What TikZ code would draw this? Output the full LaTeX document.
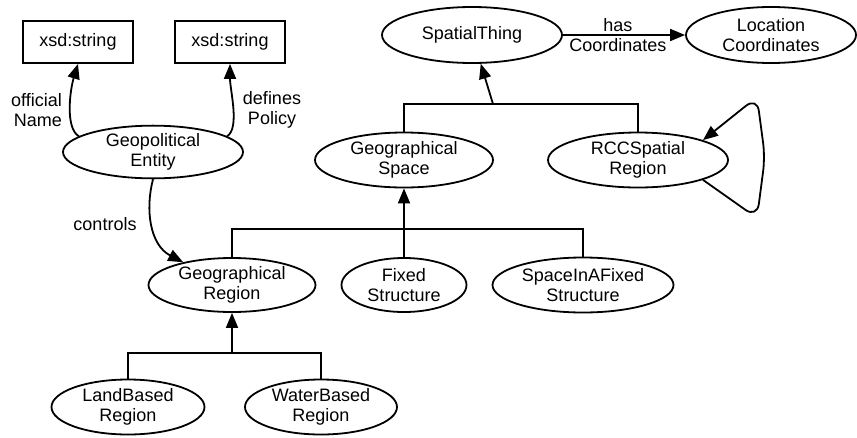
\documentclass[tikz,border=0pt]{standalone}
\usepackage{fontspec}
\setmainfont{Liberation Sans}
\usetikzlibrary{shapes.geometric,arrows.meta}
\begin{document}
\begin{tikzpicture}[x=1pt,y=-1pt,
  font=\fontsize{18}{20.5}\selectfont,
  every node/.style={inner sep=0pt, align=center},
  cls/.style={ellipse, draw, line width=1.8pt, minimum height=55pt},
  lit/.style={rectangle, draw, line width=1.8pt, minimum width=110pt, minimum height=42pt},
  link/.style={line width=1.8pt},
  arr/.style={link, -{Triangle[length=15pt,width=12pt]}}]
\useasboundingbox (0,0) rectangle (857,437);

% literal boxes
\node[lit] (str1) at (78,42) {xsd:string};
\node[lit] (str2) at (230,42) {xsd:string};

% classes
\node[cls, minimum width=180pt, minimum height=50pt] (gpe) at (153,152) {Geopolitical\\Entity};
\node[cls, minimum width=180pt, minimum height=56pt] (spatial) at (472,35) {SpatialThing};
\node[cls, minimum width=170pt, minimum height=56pt] (loc) at (771,35) {Location\\Coordinates};
\node[cls, minimum width=178pt] (gspace) at (404,160) {Geographical\\Space};
\node[cls, minimum width=180pt] (rcc) at (638,160) {RCCSpatial\\Region};
\node[cls, minimum width=167pt, minimum height=54pt] (greg) at (232,285) {Geographical\\Region};
\node[cls, minimum width=125pt, minimum height=54pt] (fixed) at (404,285) {Fixed\\Structure};
\node[cls, minimum width=181pt] (inside) at (583,285) {SpaceInAFixed\\Structure};
\node[cls, minimum width=153pt] (land) at (128,407) {LandBased\\Region};
\node[cls, minimum width=152pt] (water) at (321,407) {WaterBased\\Region};

% subclass junctions
\coordinate (j1) at (493,104);
\coordinate (j2) at (404,229);
\coordinate (j3) at (232,353);

\draw[link] (gspace.north) |- (j1) -| (rcc.north);
\draw[arr] (j1) -- (spatial);
\draw[link] (greg.north) |- (j2) -| (inside.north);
\draw[link] (fixed.north) -- (j2);
\draw[arr] (j2) -- (gspace.south);
\draw[link] (land.north) |- (j3) -| (water.north);
\draw[arr] (j3) -- (greg.south);

% properties
\draw[arr] (spatial.east) -- node[pos=0.45] {has\\Coordinates} (loc.west);
\draw[arr] (gpe.168) .. controls (65,128) and (70,90) .. (str1.south);
\node[anchor=east, align=right] (lname) at (62,110) {official\\Name};
\draw[arr] (gpe.12) .. controls (240,128) and (230,90) .. (str2.south);
\node (lpolicy) at (272,110) {defines\\Policy};
\draw[arr] (gpe.south) .. controls (145,210) and (150,245) .. (greg.155);
\node (lcontrols) at (105,224) {controls};
\draw[arr, rounded corners=14pt] (rcc.-17) -- (757,218) -- (765,157) -- (757,97) -- (rcc.17);
\end{tikzpicture}
\end{document}
